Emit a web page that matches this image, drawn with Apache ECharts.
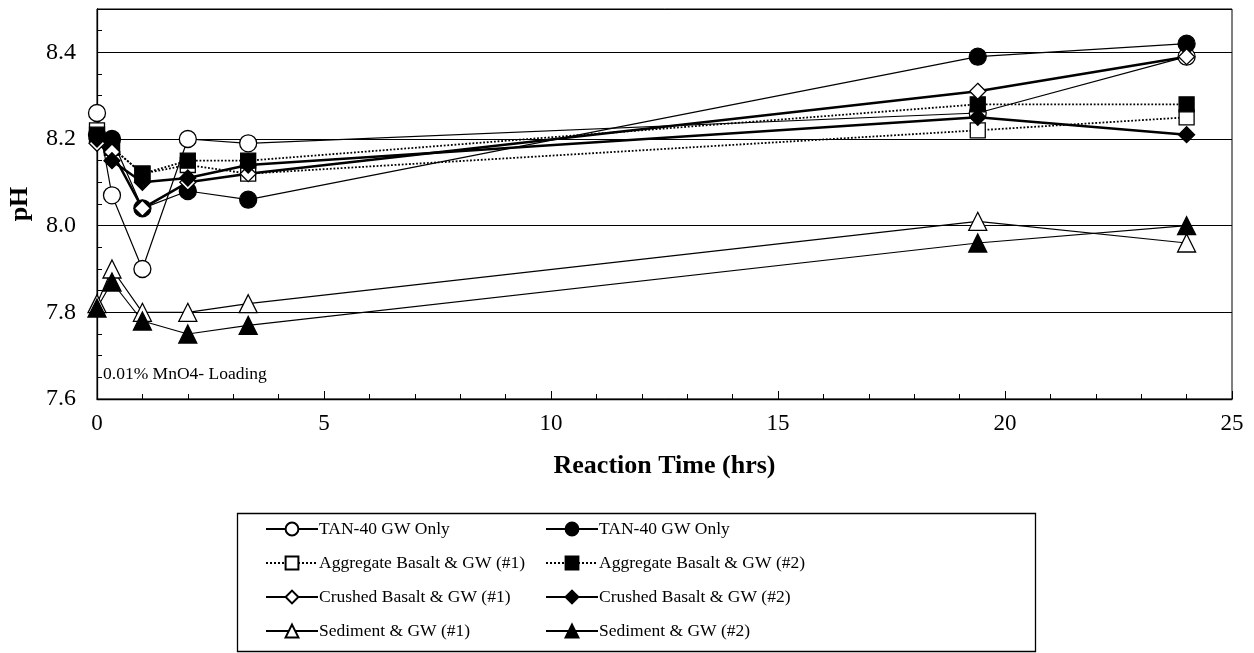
<!DOCTYPE html>
<html>
<head>
<meta charset="utf-8">
<script src="https://cdn.jsdelivr.net/npm/echarts@6/dist/echarts.min.js"></script>
<style>
  html, body { margin: 0; padding: 0; background: #fff; }
  #chart { width: 1254px; height: 653px; }
</style>
</head>
<body>
<div id="chart"></div>
<script>
// reaction times (hrs)
var times = [0, 0.33, 1, 2, 3.33, 19.4, 24]

// pH readings per sample
var tanOpen = [8.26, 8.07, 7.90, 8.20, 8.19, 8.26, 8.39]
var tanFilled = [8.21, 8.20, 8.04, 8.08, 8.06, 8.39, 8.42]
var aggOne = [8.22, 8.18, 8.12, 8.14, 8.12, 8.22, 8.25]
var aggTwo = [8.21, 8.18, 8.12, 8.15, 8.15, 8.28, 8.28]
var crushOne = [8.19, 8.17, 8.04, 8.10, 8.12, 8.31, 8.39]
var crushTwo = [8.20, 8.15, 8.10, 8.11, 8.14, 8.25, 8.21]
var sedOne = [7.82, 7.90, 7.80, 7.80, 7.82, 8.01, 7.96]
var sedTwo = [7.81, 7.87, 7.78, 7.75, 7.77, 7.96, 8.00]

var FONT = '"Liberation Serif", "Times New Roman", serif'

function pairs(vals) {
  return times.map(function (t, i) { return [t, vals[i]] })
}

function makeSeries(name, vals, symbol, filled, lineType, lineWidth, size) {
  return {
    name: name,
    type: 'line',
    data: pairs(vals),
    symbol: symbol,
    symbolSize: size,
    showAllSymbol: true,
    lineStyle: { color: '#000', width: lineWidth, type: lineType },
    itemStyle: {
      color: filled ? '#000' : '#fff',
      borderColor: '#000',
      borderWidth: 1.3
    },
    emphasis: { disabled: true }
  }
}

var series = [
  makeSeries('TAN-40 GW Only', tanOpen, 'circle', false, 'solid', 1.2, 17),
  makeSeries('TAN-40 GW Only ', tanFilled, 'circle', true, 'solid', 1.2, 17),
  makeSeries('Aggregate Basalt & GW (#1)', aggOne, 'rect', false, 'dotted', 1.8, 15),
  makeSeries('Aggregate Basalt & GW (#2)', aggTwo, 'rect', true, 'dotted', 1.8, 15),
  makeSeries('Crushed Basalt & GW (#1)', crushOne, 'diamond', false, 'solid', 2.5, 16),
  makeSeries('Crushed Basalt & GW (#2)', crushTwo, 'diamond', true, 'solid', 2.5, 16),
  makeSeries('Sediment & GW (#1)', sedOne, 'triangle', false, 'solid', 1.2, 18),
  makeSeries('Sediment & GW (#2)', sedTwo, 'triangle', true, 'solid', 1.2, 18)
]

function legendAt(left, names) {
  return {
    orient: 'vertical',
    left: left,
    top: 519,
    padding: 0,
    itemWidth: 52,
    itemHeight: 16,
    itemGap: 14,
    selectedMode: false,
    data: names,
    formatter: function (n) { return n.trim() },
    textStyle: { fontFamily: FONT, fontSize: 17.5, lineHeight: 20, color: '#000', padding: [0, 0, 0, -4] }
  }
}

var chart = echarts.init(document.getElementById('chart'))
chart.setOption({
  backgroundColor: '#fff',
  animation: false,
  grid: {
    left: 97,
    right: 22,
    top: 9,
    bottom: 254,
    outerBoundsMode: 'none',
    containLabel: false,
    show: true,
    borderColor: '#000',
    borderWidth: 1
  },
  xAxis: {
    type: 'value',
    min: 0,
    max: 25,
    interval: 5,
    name: 'Reaction Time (hrs)',
    nameLocation: 'middle',
    nameGap: 54,
    nameTextStyle: { fontFamily: FONT, fontSize: 26, fontWeight: 'bold', color: '#000' },
    axisLine: { lineStyle: { color: '#000', width: 1.3 } },
    axisTick: { inside: true, length: 8, lineStyle: { color: '#000' } },
    minorTick: { show: true, splitNumber: 5, length: 5, lineStyle: { color: '#000' } },
    axisLabel: { fontFamily: FONT, fontSize: 23, color: '#000', margin: 13 },
    splitLine: { show: false }
  },
  yAxis: {
    type: 'value',
    min: 7.6,
    max: 8.5,
    interval: 0.2,
    name: 'pH',
    nameLocation: 'middle',
    nameGap: 64,
    nameTextStyle: { fontFamily: FONT, fontSize: 26, fontWeight: 'bold', color: '#000' },
    axisLine: { lineStyle: { color: '#000', width: 1.3 } },
    axisTick: { inside: true, length: 8, lineStyle: { color: '#000' } },
    minorTick: { show: true, splitNumber: 4, length: 5, lineStyle: { color: '#000' } },
    axisLabel: {
      fontFamily: FONT,
      fontSize: 24,
      color: '#000',
      margin: 21,
      showMaxLabel: false,
      formatter: function (v) { return v.toFixed(1) }
    },
    splitLine: { show: true, lineStyle: { color: '#000', width: 1.2 } }
  },
  legend: [
    legendAt(265, ['TAN-40 GW Only', 'Aggregate Basalt & GW (#1)', 'Crushed Basalt & GW (#1)', 'Sediment & GW (#1)']),
    legendAt(545, ['TAN-40 GW Only ', 'Aggregate Basalt & GW (#2)', 'Crushed Basalt & GW (#2)', 'Sediment & GW (#2)'])
  ],
  graphic: [
    {
      type: 'rect',
      left: 235,
      top: 511,
      shape: { width: 798, height: 138 },
      style: { fill: 'none', stroke: '#000', lineWidth: 1.3 },
      silent: true
    },
    {
      type: 'text',
      left: 103,
      top: 365,
      style: { text: '0.01% MnO4- Loading', fontFamily: FONT, fontSize: 17.5, fill: '#000' },
      silent: true
    }
  ],
  series: series
})
</script>
</body>
</html>
